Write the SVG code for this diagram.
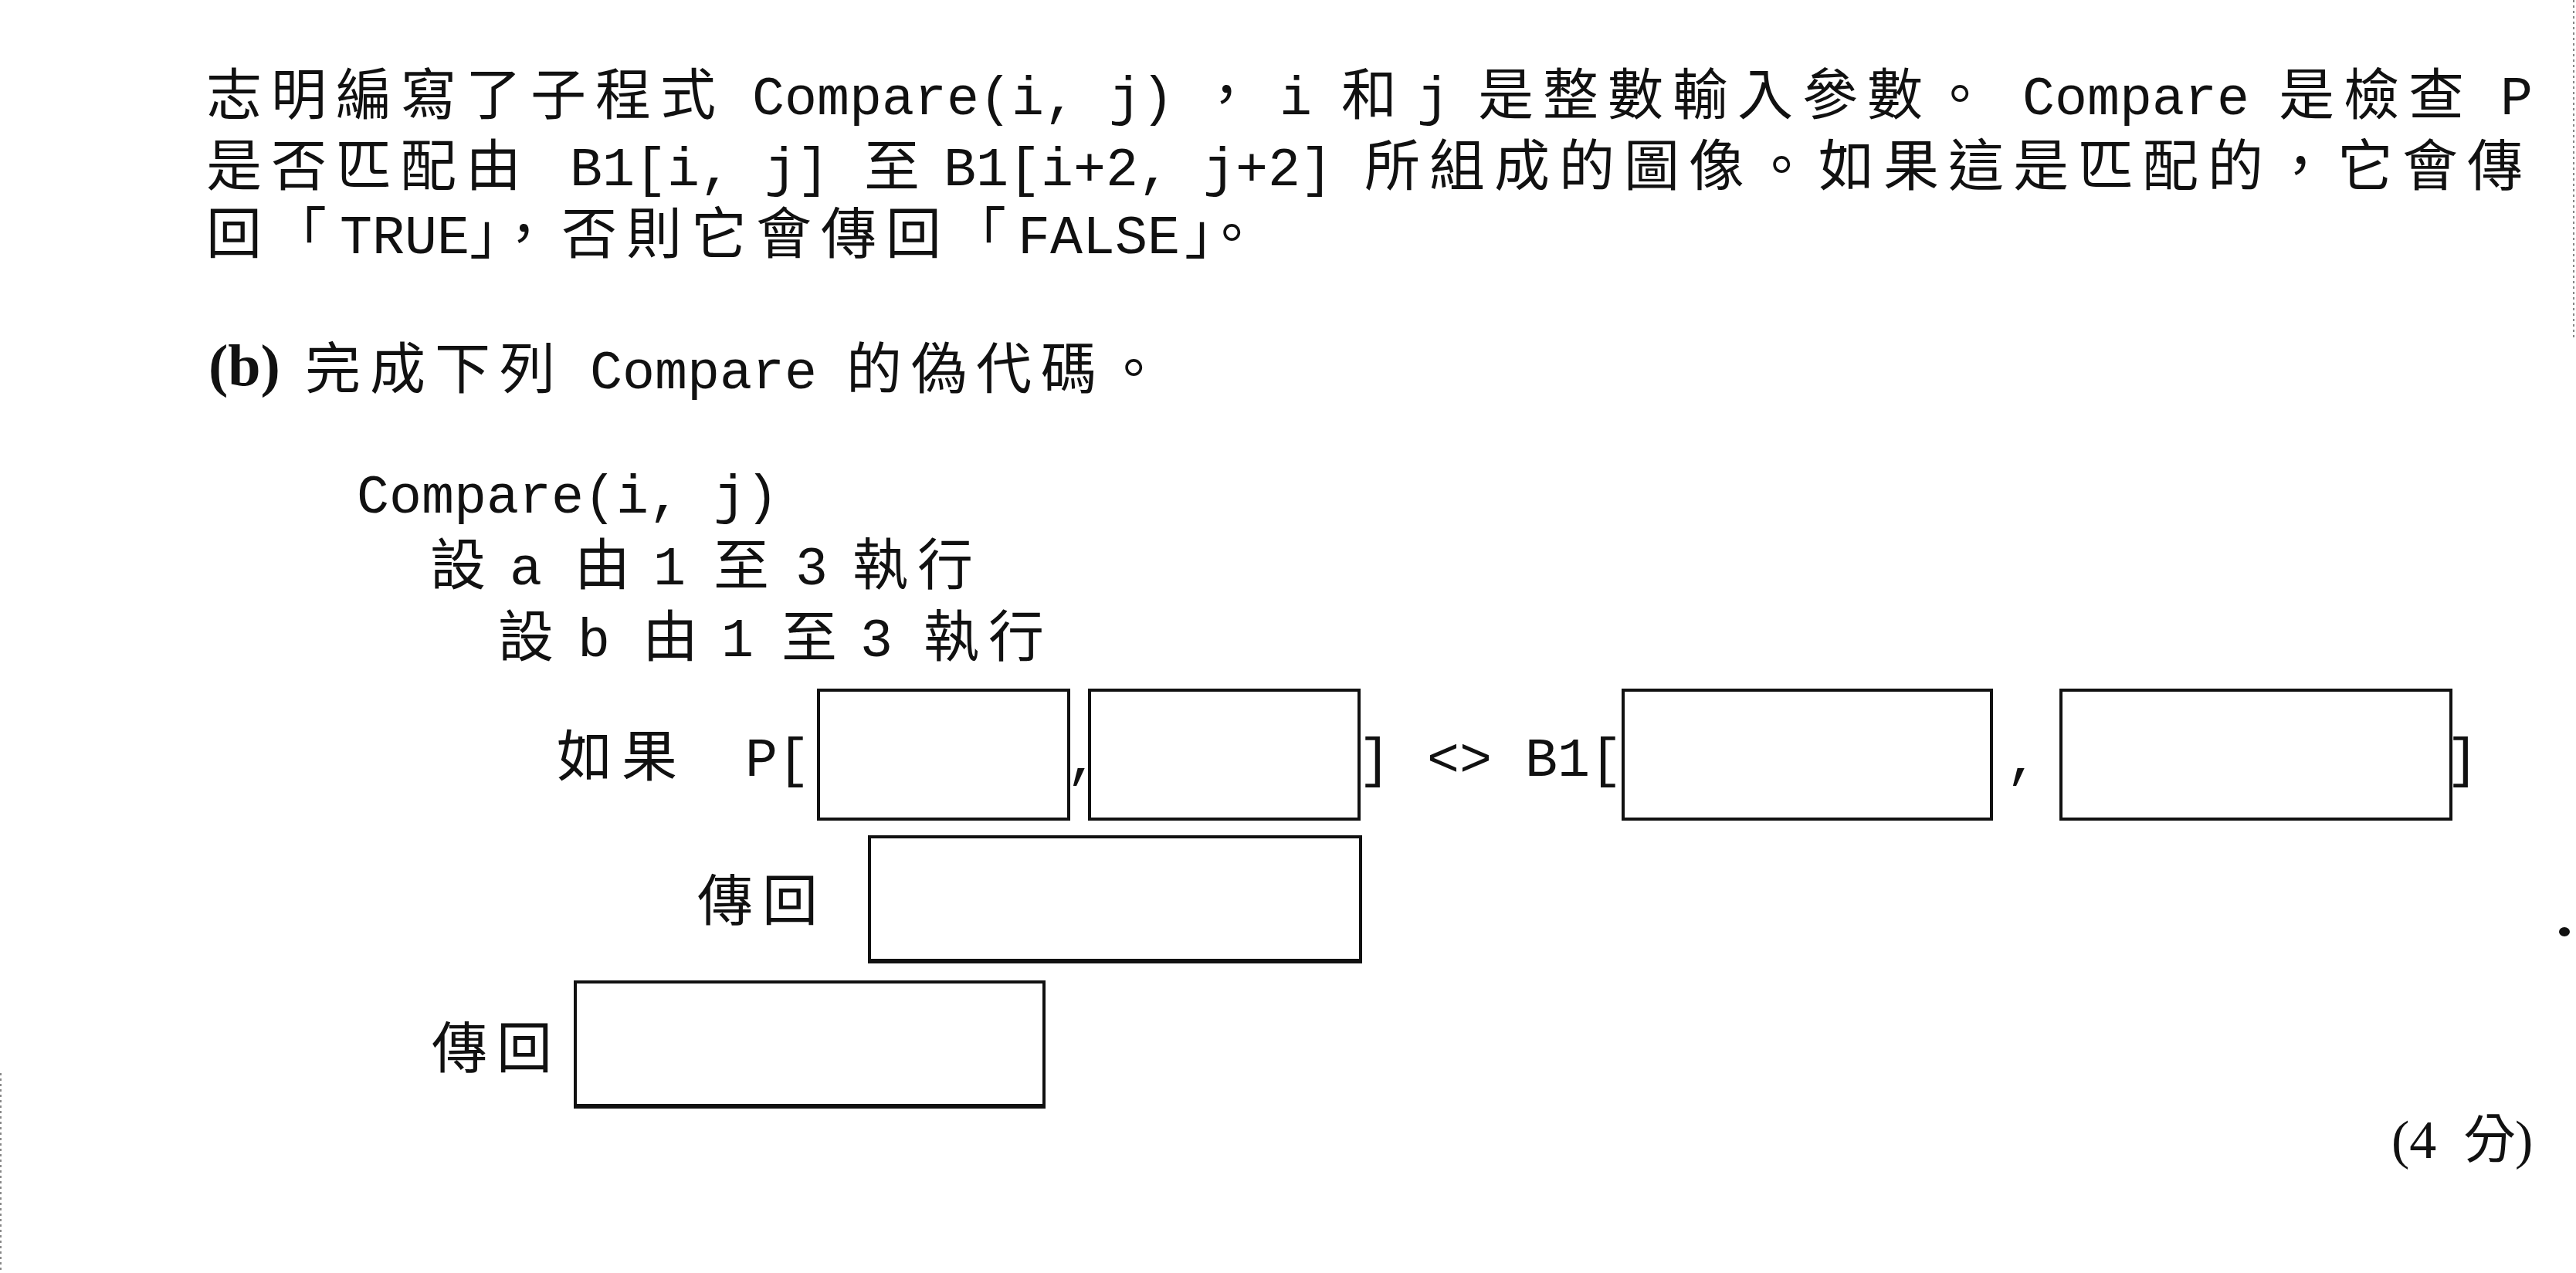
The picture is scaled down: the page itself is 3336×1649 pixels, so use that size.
<svg xmlns="http://www.w3.org/2000/svg" width="3336" height="1649" viewBox="0 0 3336 1649">
<style>
.cjk{font-family:"Noto Sans CJK TC","Noto Sans CJK SC",sans-serif;font-size:72px;letter-spacing:12px;fill:#111}
.mono{font-family:"Liberation Mono","Courier New",monospace;font-size:70px;letter-spacing:0;fill:#111}
.serif{font-family:"Liberation Serif","Times New Roman","Noto Sans CJK TC",serif;font-size:70px;letter-spacing:0;fill:#111}
.box{fill:none;stroke:#111;stroke-width:4}
.thick{stroke:#111;stroke-width:6}
.edge{stroke:#888;stroke-width:2;stroke-dasharray:3 4}
</style>
<rect width="3336" height="1649" fill="#ffffff"/>

<g id="intro">
  <text id="line1" class="cjk" y="148"><tspan x="267">志明編寫了子程式</tspan><tspan class="mono" x="974">Compare(i, j)</tspan><tspan x="1552">，</tspan><tspan class="mono" x="1657">i</tspan><tspan x="1737">和</tspan><tspan class="mono" x="1835">j</tspan><tspan x="1914">是整數輸入參數。</tspan><tspan class="mono" x="2619">Compare</tspan><tspan x="2951">是檢查</tspan><tspan class="mono" x="3238">P</tspan></text>
  <text id="line2" class="cjk" y="240"><tspan x="267">是否匹配由</tspan><tspan class="mono" x="738">B1[i, j]</tspan><tspan x="1119">至</tspan><tspan class="mono" x="1222">B1[i+2, j+2]</tspan><tspan x="1767">所組成的圖像。如果這是匹配的，它會傳</tspan></text>
  <text id="line3" class="cjk" y="328"><tspan x="267">回「</tspan><tspan class="mono" x="440">TRUE</tspan><tspan x="608" style="letter-spacing:-2px">」，</tspan><tspan x="727">否則它會傳回「</tspan><tspan class="mono" x="1318">FALSE</tspan><tspan x="1534" style="letter-spacing:-11px">」。</tspan></text>
</g>

<g id="question-b">
  <text class="cjk" y="503"><tspan class="serif" x="270" y="499" style="font-size:76px;font-weight:bold">(b)</tspan><tspan x="395" y="503">完成下列</tspan><tspan class="mono" x="764">Compare</tspan><tspan x="1096">的偽代碼。</tspan></text>
</g>

<g id="pseudocode">
  <g id="header">
    <text class="mono" x="462" y="664">Compare(i, j)</text>
  </g>
  <g id="loop-a">
    <text class="cjk" y="757"><tspan x="557">設</tspan><tspan class="mono" x="660">a</tspan><tspan x="744">由</tspan><tspan class="mono" x="846">1</tspan><tspan x="924">至</tspan><tspan class="mono" x="1030">3</tspan><tspan x="1104">執行</tspan></text>
  </g>
  <g id="loop-b">
    <text class="cjk" y="850"><tspan x="645">設</tspan><tspan class="mono" x="748">b</tspan><tspan x="832">由</tspan><tspan class="mono" x="934">1</tspan><tspan x="1012">至</tspan><tspan class="mono" x="1114">3</tspan><tspan x="1196">執行</tspan></text>
  </g>
  <g id="if-line">
    <text class="cjk" y="1005"><tspan x="721">如果</tspan><tspan class="mono" x="965">P[</tspan><tspan class="mono" x="1381">,</tspan><tspan class="mono" x="1759">]</tspan><tspan class="mono" x="1848">&lt;&gt;</tspan><tspan class="mono" x="1975">B1[</tspan><tspan class="mono" x="2598">,</tspan><tspan class="mono" x="3168">]</tspan></text>
  </g>
  <g id="return-inner-label">
    <text class="cjk" x="903" y="1192">傳回</text>
  </g>
  <g id="return-outer-label">
    <text class="cjk" x="559" y="1383">傳回</text>
  </g>
</g>

<g id="blank-p-row"><rect class="box" x="1060" y="894" width="324" height="167"/></g>
<g id="blank-p-col"><rect class="box" x="1411" y="894" width="349" height="167"/></g>
<g id="blank-b1-row"><rect class="box" x="2102" y="894" width="477" height="167"/></g>
<g id="blank-b1-col"><rect class="box" x="2669" y="894" width="505" height="167"/></g>
<g id="blank-return-inner">
  <rect class="box" x="1126" y="1084" width="636" height="161"/>
  <line class="thick" x1="1124" y1="1245" x2="1764" y2="1245"/>
</g>
<g id="blank-return-outer">
  <rect class="box" x="745" y="1272" width="607" height="161"/>
  <line class="thick" x1="743" y1="1433" x2="1354" y2="1433"/>
</g>

<g id="connectors"></g>

<g id="marks">
  <text class="serif" y="1500"><tspan x="3097">(4</tspan><tspan x="3190" style="font-family:'Noto Sans CJK TC',sans-serif;font-size:68px">分</tspan><tspan x="3257">)</tspan></text>
</g>

<g id="scan-artifacts">
  <line class="edge" x1="3333" y1="0" x2="3333" y2="440"/>
  <line class="edge" x1="1" y1="1390" x2="1" y2="1649"/>
  <ellipse cx="3321" cy="1207" rx="7" ry="6" fill="#111"/>
</g>
</svg>
